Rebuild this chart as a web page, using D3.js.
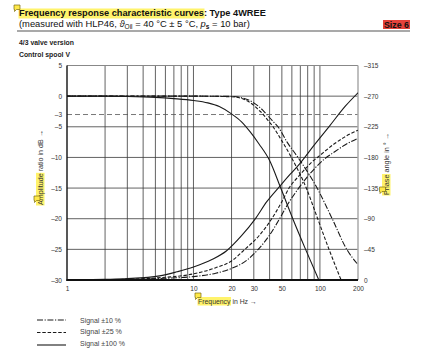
<!DOCTYPE html>
<html><head><meta charset="utf-8">
<script src="https://cdn.jsdelivr.net/npm/d3@7"></script>
<style>body{margin:0;background:#fff}svg{display:block;font-family:"Liberation Sans",Arial,sans-serif}</style>
</head><body><svg id="c" width="423" height="360"></svg>
<script>
// ---------- data ----------
const freqTicks = [1, 10, 20, 30, 50, 100, 200];
const gridFreqs = [2,3,4,5,6,7,8,9,10,20,30,40,50,60,70,80,90,100];
const ampTicks = [5, 0, -3, -5, -10, -15, -20, -25, -30];
const ampGrid = [0, -5, -10, -15, -20, -25];
const phaseTicks = [0, -45, -90, -135, -180, -225, -270, -315];
const seriesNames = ["Signal ±10 %", "Signal ±25 %", "Signal ±100 %"];
// amplitude ratio in dB  [frequency Hz, dB]
const amp10  = [[1,0],[10,0],[20,-0.05],[27,-0.6],[32,-1.5],[35,-2.2],[38,-3],[42,-4],[46.6,-5],[55,-7.5],[67,-10],[95,-15],[125,-20],[163,-25],[200,-27.5]];
const amp25  = [[1,0],[10,0],[20,-0.1],[25,-0.5],[30,-1.5],[33,-2.3],[35.7,-3],[39,-4],[42.6,-5],[50,-7.3],[59.5,-10],[78,-15],[96,-20],[118,-25],[147,-30]];
const amp100 = [[1,0],[2,0],[3,-0.05],[5,-0.2],[7,-0.4],[10,-0.7],[13,-1.1],[16,-1.7],[20,-2.9],[24,-4.2],[28,-5.8],[33,-7.8],[40,-10.5],[49,-15],[61,-20],[77,-25],[98,-30]];
// phase angle in degrees [frequency Hz, deg]
const ph10  = [[1,0],[3,-0.5],[5,-2],[10,-5],[15,-10],[20,-17],[26,-28],[32.5,-45],[40,-66],[48,-90],[56,-112],[65,-130],[80,-152],[106,-176],[130,-188],[160,-199],[200,-208]];
const ph25  = [[1,0],[3,-1],[5,-3],[10,-9],[15,-18],[20,-28],[25.5,-45],[33,-65],[41.6,-90],[50,-115],[57,-135],[70,-155],[85,-172],[100,-183],[130,-200],[160,-211],[200,-220]];
const ph100 = [[1,0],[2,-1],[3,-2],[5.4,-6],[7.4,-12],[10,-19],[14,-30],[18.3,-43],[24,-65],[30.6,-89],[38,-115],[48.3,-138],[58,-155],[69.4,-171],[90,-198],[119,-226],[160,-256],[200,-275]];

// ---------- setup ----------
const svg = d3.select("#c");
const hl = svg.append("g");
const x = d3.scaleLog().domain([1, 200]).range([67, 358]);
const y = d3.scaleLinear().domain([-30, 5]).range([280, 65.5]);
const yP = d3.scaleLinear().domain([0, -315]).range([280, 65.5]);
const fmt = d => d < 0 ? "\u2013" + (-d) : String(d);

function fit(sel, w) {
  const len = sel.node().getComputedTextLength();
  const fs = parseFloat(sel.attr("font-size"));
  sel.attr("font-size", fs * w / len);
  return sel;
}
function note(g, px, py) {
  g.append("path")
    .attr("d", `M${px},${py} h6 v4.5 h-3.5 l-2,2 v-2 h-0.5 z`)
    .attr("fill", "#ffe94a").attr("stroke", "#7a6a10").attr("stroke-width", 0.7);
}

// ---------- header ----------
const t1 = svg.append("text").attr("x", 19).attr("y", 16).attr("font-weight", "bold")
  .attr("font-size", 10.5).attr("fill", "#111")
  .text("Frequency response characteristic curves: Type 4WREE");
fit(t1, 247);
hl.append("rect").attr("x", 18.5).attr("y", 8.5).attr("height", 10)
  .attr("width", t1.node().getSubStringLength(0, 40) + 1).attr("fill", "#fff36b");
note(svg, 14, 5);

const t2 = svg.append("text").attr("x", 19).attr("y", 26.5).attr("font-size", 9.5).attr("fill", "#111");
t2.append("tspan").text("(measured with HLP46, ");
t2.append("tspan").attr("font-style", "italic").text("\u03D1");
t2.append("tspan").attr("font-size", "0.7em").attr("dy", 2).text("Oil");
t2.append("tspan").attr("dy", -2).text(" = 40 \u00B0C \u00B1 5 \u00B0C, ");
t2.append("tspan").attr("font-style", "italic").text("p");
t2.append("tspan").attr("font-size", "0.7em").attr("font-weight", "bold").attr("dy", 2).text("s");
t2.append("tspan").attr("dy", -2).text(" = 10 bar)");
fit(t2, 231);

svg.append("rect").attr("x", 383).attr("y", 20).attr("width", 27).attr("height", 9).attr("fill", "#e5433c");
const t3 = svg.append("text").attr("x", 384).attr("y", 28).attr("font-weight", "bold")
  .attr("font-size", 9.5).attr("fill", "#111").text("Size 6");
fit(t3, 25);
svg.append("line").attr("x1", 17).attr("x2", 410).attr("y1", 31).attr("y2", 31)
  .attr("stroke", "#8c8c8c").attr("stroke-width", 1.5);

fit(svg.append("text").attr("x", 19).attr("y", 44.5).attr("font-weight", "bold").attr("font-size", 7)
  .attr("fill", "#222").text("4/3 valve version"), 55);
fit(svg.append("text").attr("x", 19).attr("y", 56.5).attr("font-weight", "bold").attr("font-size", 7)
  .attr("fill", "#222").text("Control spool V"), 51);

// ---------- grid ----------
const grid = svg.append("g").attr("stroke", "#3a3a3a").attr("stroke-width", 0.8);
grid.selectAll("line.v").data(gridFreqs).join("line")
  .attr("x1", d => x(d)).attr("x2", d => x(d)).attr("y1", y(5)).attr("y2", y(-30));
grid.selectAll("line.h").data(ampGrid).join("line")
  .attr("x1", x(1)).attr("x2", x(200)).attr("y1", d => y(d)).attr("y2", d => y(d));
svg.append("line").attr("x1", x(1)).attr("x2", x(200)).attr("y1", y(-3)).attr("y2", y(-3))
  .attr("stroke", "#555").attr("stroke-width", 0.8).attr("stroke-dasharray", "5,3");
// frame
svg.append("line").attr("x1", x(1)).attr("x2", x(200)).attr("y1", y(5)).attr("y2", y(5))
  .attr("stroke", "#888").attr("stroke-width", 1);
svg.append("line").attr("x1", x(200)).attr("x2", x(200)).attr("y1", y(5)).attr("y2", y(-30))
  .attr("stroke", "#aaa").attr("stroke-width", 1.5);

// ---------- curves ----------
svg.append("clipPath").attr("id", "pc").append("rect")
  .attr("x", x(1)).attr("y", y(5)).attr("width", x(200) - x(1)).attr("height", y(-30) - y(5));
const cg = svg.append("g").attr("clip-path", "url(#pc)").attr("fill", "none").attr("stroke", "#1a1a1a").attr("stroke-width", 1.1);
const lineA = d3.line().x(d => x(d[0])).y(d => y(d[1])).curve(d3.curveMonotoneX);
const lineP = d3.line().x(d => x(d[0])).y(d => yP(d[1])).curve(d3.curveMonotoneX);
const dashes = ["6,1.6,1.2,1.6", "3.5,1.8", null];
[[amp10, ph10], [amp25, ph25], [amp100, ph100]].forEach((pair, i) => {
  cg.append("path").attr("d", lineA(pair[0])).attr("stroke-dasharray", dashes[i]);
  cg.append("path").attr("d", lineP(pair[1])).attr("stroke-dasharray", dashes[i]);
});

// ---------- axes ----------
function styleAxis(g) {
  g.select(".domain").remove();
  g.selectAll("text").attr("font-size", 6.5).attr("fill", "#333").attr("font-family", "Liberation Sans, Arial, sans-serif");
}
svg.append("g").attr("transform", `translate(${x(1)},0)`)
  .call(d3.axisLeft(y).tickValues(ampTicks).tickFormat(fmt).tickSize(0).tickPadding(5)).call(styleAxis);
svg.append("g").attr("transform", `translate(${x(200)},0)`)
  .call(d3.axisRight(yP).tickValues(phaseTicks).tickFormat(fmt).tickSize(0).tickPadding(6)).call(styleAxis);
svg.append("g").attr("transform", `translate(0,${y(-30)})`)
  .call(d3.axisBottom(x).tickValues(freqTicks).tickFormat(d3.format("d")).tickSize(0).tickPadding(6)).call(styleAxis);
svg.append("line").attr("x1", x(1)).attr("x2", x(1)).attr("y1", y(5)).attr("y2", y(-30) + 1)
  .attr("stroke", "#111").attr("stroke-width", 1.4);
svg.append("line").attr("x1", x(1) - 0.5).attr("x2", x(200)).attr("y1", y(-30)).attr("y2", y(-30))
  .attr("stroke", "#111").attr("stroke-width", 2);

// ---------- axis titles ----------
const xt = svg.append("text").attr("x", 198).attr("y", 304).attr("font-size", 7.5).attr("fill", "#333")
  .text("Frequency in Hz \u2192");
fit(xt, 59);
hl.append("rect").attr("x", 197.5).attr("y", 297).attr("height", 8.5)
  .attr("width", xt.node().getSubStringLength(0, 9) + 1).attr("fill", "#fff36b");
note(svg, 195, 293);

function rotTitle(tx, ty, label, w, n) {
  const g = svg.append("g").attr("transform", `translate(${tx},${ty}) rotate(-90)`);
  const r = g.append("rect");
  const t = g.append("text").attr("x", 0).attr("y", 0).attr("font-size", 7.5).attr("fill", "#333").text(label);
  fit(t, w);
  r.attr("x", -0.5).attr("y", -6.5).attr("height", 8.5)
    .attr("width", t.node().getSubStringLength(0, n) + 1).attr("fill", "#fff36b");
  return g;
}
rotTitle(42.5, 205, "Amplitude ratio in dB \u2192", 75, 9);
note(svg, 34, 196);
rotTitle(388.5, 195, "Phase angle in \u00B0 \u2192", 62, 5);
note(svg, 379.5, 187);

// ---------- legend ----------
const legY = [320, 332.5, 345];
const legTextY = [322.5, 334, 346];
const legW = [41, 42, 45];
seriesNames.forEach((s, i) => {
  svg.append("line").attr("x1", 37).attr("x2", 66).attr("y1", legY[i]).attr("y2", legY[i])
    .attr("stroke", "#1a1a1a").attr("stroke-width", 1.1).attr("stroke-dasharray", dashes[i]);
  fit(svg.append("text").attr("x", 80).attr("y", legTextY[i]).attr("font-size", 6.5).attr("fill", "#444").text(s), legW[i]);
});
</script></body></html>
